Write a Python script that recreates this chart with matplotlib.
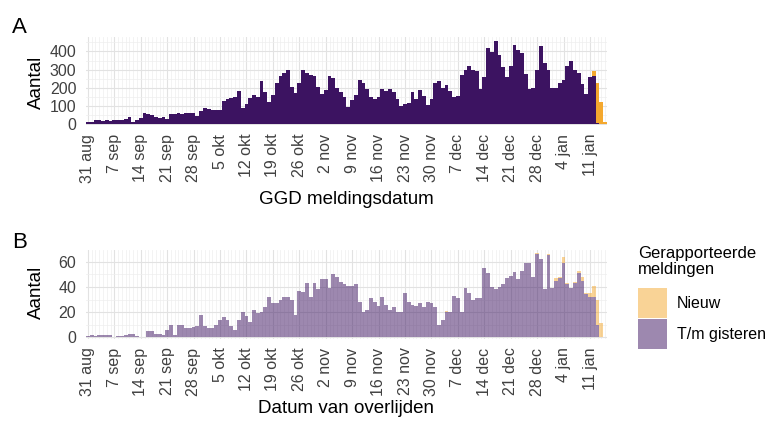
import numpy as np
import pandas as pd
import matplotlib
matplotlib.use('Agg')
import matplotlib.pyplot as plt
import matplotlib.dates as mdates
from matplotlib.patches import Rectangle

plt.rcParams['font.family'] = ['Liberation Sans', 'DejaVu Sans']

# one bar per day, 31 aug 2020 .. 15 jan 2021
dates = pd.date_range('2020-08-31', periods=138, freq='D')

tick_labels = ['31 aug', '7 sep', '14 sep', '21 sep', '28 sep', '5 okt', '12 okt',
               '19 okt', '26 okt', '2 nov', '9 nov', '16 nov', '23 nov', '30 nov',
               '7 dec', '14 dec', '21 dec', '28 dec', '4 jan', '11 jan']

# panel A: GGD meldingsdatum
ggd_gisteren = [12, 8, 20, 22, 18, 22, 16, 20, 22, 24,
                25, 40, 8, 20, 30, 60, 52, 50, 40, 30,
                38, 25, 52, 55, 58, 56, 60, 58, 62, 45,
                70, 85, 82, 78, 75, 76, 125, 140, 142, 150,
                180, 85, 110, 145, 160, 150, 235, 175, 120, 160,
                225, 265, 280, 300, 205, 170, 225, 300, 280, 270,
                265, 205, 165, 185, 265, 255, 200, 175, 150, 95,
                130, 160, 245, 225, 190, 150, 135, 150, 190, 180,
                190, 175, 135, 100, 110, 118, 178, 135, 185, 155,
                105, 135, 225, 235, 200, 215, 180, 150, 155, 270,
                300, 320, 300, 290, 190, 260, 420, 395, 460, 380,
                315, 260, 320, 435, 410, 390, 275, 190, 200, 295,
                430, 335, 300, 200, 200, 225, 245, 320, 345, 300,
                280, 220, 165, 260, 262, 5, 0, 0]
ggd_nieuw = [0] * 134 + [28, 220, 123, 10]

# panel B: datum van overlijden
overl_gisteren = [1, 2, 1, 2, 2, 2, 2, 0, 1, 1, 2, 3, 3, 1, 0, 0,
                  5, 5, 3, 3, 2, 6, 10, 2, 10, 10, 7, 7, 8, 9, 18, 9, 7, 7,
                  10, 14, 16, 14, 9, 6, 14, 20, 17, 12,
                  22, 19, 20, 24, 32, 27, 27, 30, 32, 32, 30, 18, 37, 36, 43, 32, 43, 38,
                  46, 46, 39, 50, 48, 44, 42, 41, 41, 42,
                  28, 20, 22, 31, 28, 25, 32, 26, 22, 24,
                  20, 20, 35, 28, 26, 25, 27, 24, 28, 27,
                  24, 10, 14, 20, 20, 33, 31, 20, 39, 35,
                  30, 31, 31, 55, 51, 40, 38, 40, 42, 47,
                  49, 52, 46, 53, 59, 59, 48, 66, 62, 38,
                  65, 39, 45, 47, 59, 42, 39, 43, 51, 45,
                  34, 32, 32, 10, 0, 0]
overl_nieuw = ([0] * 95 + [1] + [0] * 23 +
               [1, 0, 0, 1.5, 0, 2, 1, 5, 1.5, 0, 1, 2, 3, 1, 3, 9, 20, 11, 0])

PURPLE = '#3c1361'
ORANGE = '#f4a82e'

W, H = 766, 421
fig = plt.figure(figsize=(W / 100, H / 100), dpi=100)

x = mdates.date2num(dates.to_pydatetime())


def panel(rect, gisteren, nieuw, alpha, ymax, ymin, yt, ytm):
    ax = fig.add_axes(rect)
    ax.bar(x, gisteren, width=1.0, color=PURPLE, alpha=alpha, linewidth=0)
    ax.bar(x, nieuw, width=1.0, bottom=gisteren, color=ORANGE, alpha=alpha, linewidth=0)
    ax.set_xlim(x[0] - 0.5, x[-1] + 0.5)
    ax.set_ylim(ymin, ymax)
    ax.set_xticks(x[::7])
    ax.set_xticklabels(tick_labels, rotation=90, fontsize=11.5, color='#404040',
                       va='top', ha='center')
    ax.set_xticks(x, minor=True)
    ax.set_yticks(yt)
    ax.set_yticklabels([str(v) for v in yt], fontsize=11.5, color='#404040')
    ax.set_yticks(ytm, minor=True)
    ax.tick_params(which='both', length=0)
    ax.tick_params(axis='x', pad=6)
    ax.tick_params(axis='y', pad=7)
    ax.grid(which='major', color='#e2e2e2', lw=0.8)
    ax.grid(which='minor', color='#eeeeee', lw=0.5)
    ax.set_axisbelow(True)
    for s in ax.spines.values():
        s.set_visible(False)
    return ax


axA = panel([86 / W, 1 - 125.3 / H, 521 / W, 88.3 / H], ggd_gisteren, ggd_nieuw,
            1.0, 480, -8, [0, 100, 200, 300, 400], [50, 150, 250, 350, 450])
axB = panel([86 / W, 1 - 339.2 / H, 521 / W, 89.2 / H], overl_gisteren, overl_nieuw,
            0.5, 69.3, -1.5, [0, 20, 40, 60], [10, 30, 50])

# titles / labels
fig.text(12 / W, 1 - 33 / H, 'A', fontsize=16, va='baseline')
fig.text(12 / W, 1 - 248 / H, 'B', fontsize=16, va='baseline')
fig.text(36 / W, 1 - 82 / H, 'Aantal', rotation=90, fontsize=13.5, ha='center', va='center')
fig.text(36 / W, 1 - 292 / H, 'Aantal', rotation=90, fontsize=13.5, ha='center', va='center')
fig.text(346.5 / W, 1 - 204 / H, 'GGD meldingsdatum', fontsize=13.5, ha='center', va='baseline')
fig.text(346.5 / W, 1 - 413 / H, 'Datum van overlijden', fontsize=13.5, ha='center', va='baseline')

# legend
fig.text(638 / W, 1 - 258 / H, 'Gerapporteerde', fontsize=12, va='baseline')
fig.text(638 / W, 1 - 274 / H, 'meldingen', fontsize=12, va='baseline')
fig.add_artist(Rectangle((638 / W, 1 - 318 / H), 29 / W, 30 / H, transform=fig.transFigure,
                         facecolor=ORANGE, alpha=0.5, linewidth=0))
fig.add_artist(Rectangle((638 / W, 1 - 349 / H), 29 / W, 30 / H, transform=fig.transFigure,
                         facecolor=PURPLE, alpha=0.5, linewidth=0))
fig.text(677 / W, 1 - 303 / H, 'Nieuw', fontsize=11.5, va='center')
fig.text(677 / W, 1 - 334 / H, 'T/m gisteren', fontsize=11.5, va='center')

fig.savefig('out.png', dpi=100)
